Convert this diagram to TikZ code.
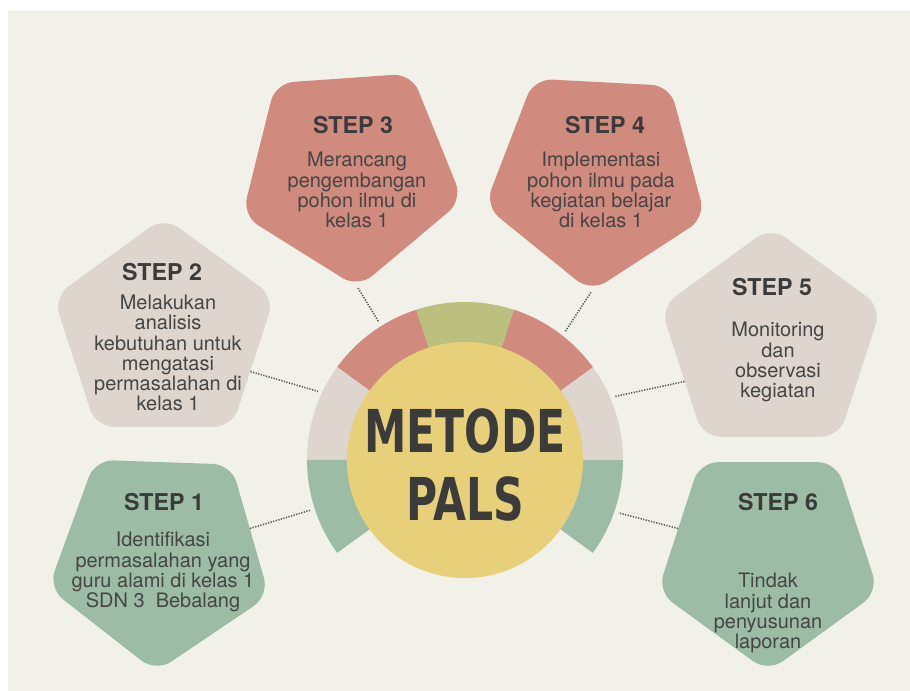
\documentclass[tikz,border=0pt]{standalone}
\usepackage{fontspec}
\usepackage{xcolor}
\usepackage{tikz}
\usetikzlibrary{shapes.geometric,positioning}
\setmainfont{TeX Gyre Heros}
\newfontfamily\hubfont{DejaVu Sans}[FakeStretch=0.72]

\definecolor{paper}{HTML}{F1F1EA}
\definecolor{rose}{HTML}{D08A7E}
\definecolor{stone}{HTML}{DDD5CE}
\definecolor{sage}{HTML}{9DBCA5}
\definecolor{olive}{HTML}{BBC07E}
\definecolor{sun}{HTML}{E8CF7A}
\definecolor{ink}{HTML}{3B3B3B}

\begin{document}
\begin{tikzpicture}[x=0.025cm,y=0.025cm,
  pent/.style={regular polygon,regular polygon sides=5,minimum size=5.8cm,
    inner sep=0pt,rounded corners=13pt,fill=#1},
  stephead/.style={font=\fontsize{16.5}{20}\selectfont\bfseries,text=ink},
  stepbody/.style={font=\fontsize{14.2}{14.3}\selectfont,text=ink!95,align=center},
  link/.style={line width=1.1pt,ink!85,dash pattern=on 0.9pt off 1pt}]
% Canvas
\useasboundingbox (0,0) rectangle (910,691);
\fill[white] (0,0) rectangle (910,691);
\fill[paper] (8,0) rectangle (910,680);

% Ring of coloured sectors behind the hub
\foreach \a/\fc in {-36/sage,0/stone,36/rose,72/olive,108/rose,144/stone,180/sage}
  \fill[\fc] (465,231) -- ++(\a:158) arc[start angle=\a,end angle=\a+36,radius=158] -- cycle;
\node[circle,minimum size=8.1cm,inner sep=0pt] (ring) at (465,231) {};

% Hub
\node[circle,fill=sun,minimum size=5.9cm,inner sep=0pt] (hub) at (465,231) {};
\node[text=ink,align=center,font=\hubfont\bfseries\fontsize{42}{48}\selectfont]
  (hubt) at ([shift={(0,-5)}]hub.center) {METODE\\PALS};

% Step 1
\node[pent=sage,shape border rotate=178] (s1) at (160,135) {};
\node[stephead] (s1h) at ([shift={(4,54)}]s1.center) {STEP 1};
\node[stepbody] (s1b) at ([shift={(3,-16)}]s1.center)
  {Identifikasi\\permasalahan yang\\guru alami di kelas 1\\SDN 3\ \ Bebalang};

% Step 2
\node[pent=stone] (s2) at (164,358) {};
\node[stephead] (s2h) at ([shift={(-2,61)}]s2.center) {STEP 2};
\node[stepbody] (s2b) at ([shift={(4,-20)}]s2.center)
  {Melakukan\\analisis\\kebutuhan untuk\\mengatasi\\permasalahan di\\kelas 1};

% Step 3
\node[pent=rose,shape border rotate=184] (s3) at (350,519) {};
\node[stephead] (s3h) at ([shift={(3,47)}]s3.center) {STEP 3};
\node[stepbody] (s3b) at ([shift={(7,-18)}]s3.center)
  {Merancang\\pengembangan\\pohon ilmu di\\kelas 1};

% Step 4
\node[pent=rose,shape border rotate=177] (s4) at (597,515) {};
\node[stephead] (s4h) at ([shift={(8,51)}]s4.center) {STEP 4};
\node[stepbody] (s4b) at ([shift={(4,-14)}]s4.center)
  {Implementasi\\pohon ilmu pada\\kegiatan belajar\\di kelas 1};

% Step 5
\node[pent=stone] (s5) at (771,348) {};
\node[stephead] (s5h) at ([shift={(1,56)}]s5.center) {STEP 5};
\node[stepbody] (s5b) at ([shift={(7,-19)}]s5.center)
  {Monitoring\\dan\\observasi\\kegiatan};

% Step 6
\node[pent=sage,shape border rotate=180] (s6) at (768,135) {};
\node[stephead] (s6h) at ([shift={(10,54)}]s6.center) {STEP 6};
\node[stepbody] (s6b) at ([shift={(0,-57)}]s6.center)
  {Tindak\\lanjut dan\\penyusunan\\laporan};

% Dotted links from each step to the ring
\foreach \nm/\a/\b in {s1/17/198, s2/336/155, s3/274/122, s4/267/52, s5/204/23, s6/163/341}
  \draw[link] (\nm.\a) -- (ring.\b);
\end{tikzpicture}
\end{document}
